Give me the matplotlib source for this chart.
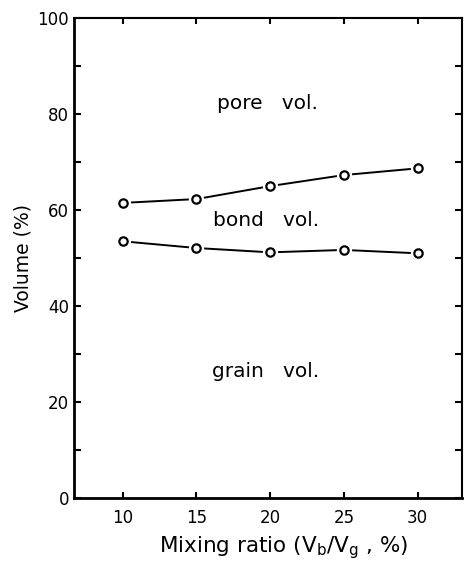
import matplotlib
matplotlib.use("Agg")
import matplotlib.pyplot as plt
import numpy as np

# mixing ratio (Vb/Vg, %)
mixing_ratio = [10, 15, 20, 25, 30]
# boundary between bond and pore volume
pore_boundary = [61.5, 62.3, 65.0, 67.3, 68.7]
# boundary between grain and bond volume
grain_boundary = [53.5, 52.1, 51.2, 51.7, 51.0]

fig = plt.figure(figsize=(4.66, 5.66), dpi=100)
ax = fig.add_axes([0.159, 0.12, 0.832, 0.848])

for yv in (pore_boundary, grain_boundary):
    ax.plot(mixing_ratio, yv, color="black", lw=1.4)
    # white halo so the line stops short of each circle
    ax.plot(mixing_ratio, yv, ls="none", marker="o", ms=10,
            mfc="white", mec="white")
    ax.plot(mixing_ratio, yv, ls="none", marker="o", ms=6,
            mfc="white", mec="black", mew=1.6)

ax.text(19.8, 82.3, "pore   vol.", ha="center", va="center", fontsize=14.5)
ax.text(19.7, 57.9, "bond   vol.", ha="center", va="center", fontsize=14.5)
ax.text(19.7, 26.3, "grain   vol.", ha="center", va="center", fontsize=14.5)

ax.set_xlim(6.7, 33)
ax.set_ylim(0, 100)
ax.set_xticks(mixing_ratio)
ax.set_yticks(np.arange(0, 101, 20))
ax.set_yticks(np.arange(10, 100, 20), minor=True)
ax.tick_params(which="both", direction="in", top=True, right=True,
               labelsize=12, width=1.5, length=5)
ax.tick_params(axis="x", length=4, pad=8)

for side in ("left", "bottom"):
    ax.spines[side].set_linewidth(2)
for side in ("top", "right"):
    ax.spines[side].set_linewidth(1.5)

ax.set_ylabel("Volume (%)", fontsize=13.5, labelpad=4)
ax.set_xlabel(r"Mixing ratio (V$_\mathrm{b}$/V$_\mathrm{g}$ , %)", fontsize=15.5, labelpad=3)
ax.xaxis.set_label_coords(0.54, -0.075)

fig.savefig("out.png", dpi=100)
